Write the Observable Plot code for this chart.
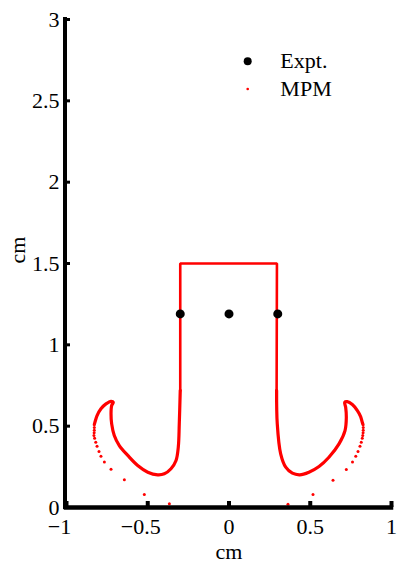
<!DOCTYPE html>
<html>
<head>
<meta charset="utf-8">
<script src="https://cdn.jsdelivr.net/npm/d3@7"></script>
<script src="https://cdn.jsdelivr.net/npm/@observablehq/plot@0.6"></script>
<style>
  html, body { margin: 0; padding: 0; background: #fff; }
  #chart svg { display: block; }
</style>
</head>
<body>
<div id="chart"></div>
<script>
// ---- Data ----
const xTicks = [-1, -0.5, 0, 0.5, 1];
const yTicks = [0, 0.5, 1, 1.5, 2, 2.5, 3];

// Experimental points
const exptX = [-0.3, 0, 0.3];
const exptY = [1.19, 1.19, 1.19];

// MPM: dense (continuous-looking) left hook, from outer arm over tip down and up the wall
const mpmLeftHook = [
  [-0.829, 0.509], [-0.825, 0.524], [-0.812, 0.565], [-0.788, 0.607], [-0.757, 0.637],
  [-0.726, 0.653], [-0.712, 0.647], [-0.722, 0.627], [-0.726, 0.576], [-0.722, 0.514],
  [-0.706, 0.443], [-0.675, 0.381], [-0.623, 0.320], [-0.562, 0.258], [-0.500, 0.217],
  [-0.439, 0.201], [-0.398, 0.207], [-0.357, 0.238], [-0.326, 0.289], [-0.312, 0.371],
  [-0.306, 0.514], [-0.300, 0.720]
];
// MPM: rectangular column
const mpmColumn = [
  [-0.300, 0.720], [-0.300, 1.500], [0.295, 1.500], [0.293, 0.720]
];
// MPM: dense right hook, from the wall down, round and up to the tip and outer arm
const mpmRightHook = [
  [0.293, 0.720], [0.297, 0.514], [0.318, 0.330], [0.349, 0.248], [0.390, 0.211],
  [0.435, 0.201], [0.492, 0.217], [0.554, 0.252], [0.615, 0.309], [0.677, 0.391],
  [0.714, 0.473], [0.722, 0.555], [0.718, 0.616], [0.712, 0.647], [0.728, 0.651],
  [0.759, 0.633], [0.790, 0.596], [0.810, 0.559], [0.820, 0.524], [0.825, 0.509]
];
// MPM: sparse particles (left)
const mpmLeftSparse = [
  [-0.829, 0.492], [-0.829, 0.475], [-0.830, 0.459], [-0.831, 0.443], [-0.827, 0.426],
  [-0.820, 0.401], [-0.812, 0.377], [-0.800, 0.344], [-0.788, 0.315], [-0.767, 0.279],
  [-0.726, 0.235], [-0.644, 0.170], [-0.521, 0.080], [-0.367, 0.023], [-0.090, 0.000]
];
// MPM: sparse particles (right)
const mpmRightSparse = [
  [0.826, 0.492], [0.826, 0.475], [0.825, 0.459], [0.823, 0.443], [0.820, 0.426],
  [0.814, 0.401], [0.806, 0.377], [0.794, 0.344], [0.780, 0.315], [0.760, 0.279],
  [0.722, 0.234], [0.640, 0.168], [0.517, 0.080], [0.363, 0.020], [0.082, 0.000]
];

const legendLabels = ["Expt.", "MPM"];

// ---- Build ----
const expt = exptX.map((x, i) => ({x, y: exptY[i]}));
const fmt = d => (d < 0 ? "\u2212" : "") + String(Math.abs(d));
const FONT = '"Liberation Serif", "Times New Roman", Times, serif';

const chart = Plot.plot({
  width: 403,
  height: 564,
  marginLeft: 66,
  marginRight: 12,
  marginTop: 19,
  marginBottom: 57,
  style: {fontFamily: FONT, fontSize: "22px", background: "#fff", color: "#000", overflow: "visible"},
  x: {domain: [-1, 1]},
  y: {domain: [0, 3]},
  marks: [
    // MPM dense parts
    Plot.line(mpmLeftHook, {x: d => d[0], y: d => d[1], stroke: "red", strokeWidth: 3.2, curve: "catmull-rom"}),
    Plot.line(mpmColumn, {x: d => d[0], y: d => d[1], stroke: "red", strokeWidth: 2.6, curve: "linear", strokeLinejoin: "miter"}),
    Plot.line(mpmRightHook, {x: d => d[0], y: d => d[1], stroke: "red", strokeWidth: 3.2, curve: "catmull-rom"}),
    // MPM sparse particles
    Plot.dot(mpmLeftSparse, {x: d => d[0], y: d => d[1], r: 1.5, fill: "red", stroke: "none"}),
    Plot.dot(mpmRightSparse, {x: d => d[0], y: d => d[1], r: 1.5, fill: "red", stroke: "none"}),
    // Experiment
    Plot.dot(expt, {x: "x", y: "y", r: 4.5, fill: "black", stroke: "none"}),
    // Axis lines
    Plot.ruleY([0], {stroke: "black", strokeWidth: 4.5, strokeLinecap: "square"}),
    Plot.ruleX([-1], {stroke: "black", strokeWidth: 4, strokeLinecap: "square", dx: -1.5}),
    // Ticks (inward): outward ticks shifted back over the axis
    Plot.axisX({ticks: xTicks, tickSize: 6, dy: -6, stroke: "black", strokeWidth: 4, tickFormat: () => "", label: null}),
    Plot.axisY({ticks: yTicks, tickSize: 4, dx: 4, stroke: "black", strokeWidth: 3, tickFormat: () => "", label: null}),
    // Tick labels
    Plot.axisX({ticks: xTicks.filter(d => d >= 0), tickSize: 0, tickPadding: 11, tickFormat: fmt, label: null, fontSize: 22}),
    Plot.axisX({ticks: xTicks.filter(d => d < 0), tickSize: 0, tickPadding: 11, tickFormat: fmt, label: null, fontSize: 22, dx: -7}),
    Plot.axisY({ticks: yTicks, tickSize: 0, tickPadding: 7, tickFormat: fmt, label: null, fontSize: 22, dy: 0}),
    // Axis titles
    Plot.text(["cm"], {frameAnchor: "bottom", dy: 44, text: d => d, fontSize: 22, lineAnchor: "middle"}),
    Plot.text(["cm"], {frameAnchor: "left", dx: -49, rotate: -90, text: d => d, fontSize: 22}),
    // Legend
    Plot.dot([legendLabels[0]], {x: 0.115, y: 2.743, r: 4, fill: "black", stroke: "none"}),
    Plot.dot([legendLabels[1]], {x: 0.115, y: 2.573, r: 1.3, fill: "red", stroke: "none"}),
    Plot.text([legendLabels[0]], {x: 0.316, y: 2.743, text: d => d, textAnchor: "start", fontSize: 22}),
    Plot.text([legendLabels[1]], {x: 0.316, y: 2.573, text: d => d, textAnchor: "start", fontSize: 22})
  ]
});
document.getElementById("chart").appendChild(chart);
</script>
</body>
</html>
